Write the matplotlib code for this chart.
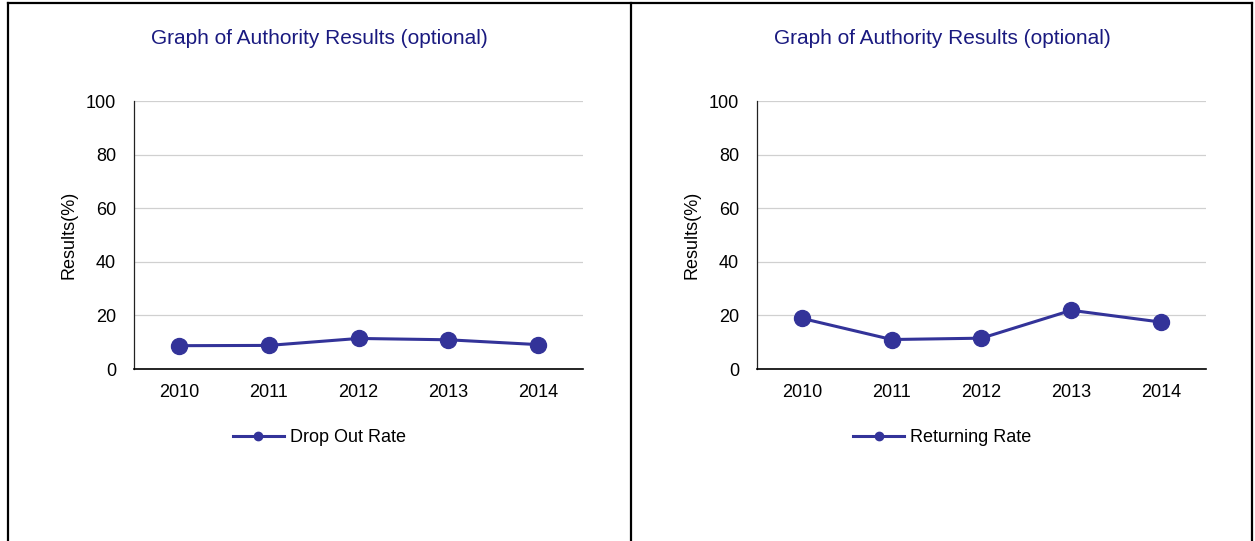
import matplotlib
matplotlib.use("Agg")
import matplotlib.pyplot as plt
from matplotlib.lines import Line2D

plt.rcParams['font.family'] = ['Liberation Sans', 'DejaVu Sans']

years = ["2010", "2011", "2012", "2013", "2014"]
drop_out_rate = [8.7, 8.8, 11.4, 10.9, 9.1]
returning_rate = [18.9, 11.0, 11.5, 21.9, 17.5]
y_ticks = [0, 20, 40, 60, 80, 100]
title_text = "Graph of Authority Results (optional)"
ylabel_text = "Results(%)"

W, H = 1255, 541
fig = plt.figure(figsize=(W / 100, H / 100), dpi=100)

line_color = "#333399"
title_color = "#1a1a80"
fs = 13

panels = [
    (0.0, drop_out_rate, "Drop Out Rate"),
    (623.0, returning_rate, "Returning Rate"),
]

for offset, values, label in panels:
    left_px = 134 + offset
    ax = fig.add_axes([left_px / W, (H - 369) / H, (583 - 134) / W, (369 - 101) / H])
    x = list(range(len(years)))
    ax.plot(x, values, color=line_color, lw=2.2, marker="o", ms=11.5,
            markerfacecolor=line_color, markeredgecolor=line_color, label=label)
    ax.set_xlim(-0.5, len(years) - 0.5)
    ax.set_ylim(0, 100)
    ax.set_yticks(y_ticks)
    ax.set_xticks(x)
    ax.set_xticklabels(years)
    ax.tick_params(axis="both", length=0, labelsize=fs, colors="black")
    ax.tick_params(axis="y", pad=13)
    ax.tick_params(axis="x", pad=11)
    ax.yaxis.grid(True, color="#d0d0d0", lw=0.9)
    ax.set_axisbelow(True)
    for s in ["top", "right"]:
        ax.spines[s].set_visible(False)
    ax.spines["left"].set_color("#222222")
    ax.spines["left"].set_linewidth(0.9)
    ax.spines["bottom"].set_color("black")
    ax.spines["bottom"].set_linewidth(1.2)
    ax.set_ylabel(ylabel_text, fontsize=fs, labelpad=6)

    panel_center = (8 + offset + 631 + offset) / 2.0
    fig.text(panel_center / W, (H - 39) / H, title_text, ha="center", va="center",
             fontsize=15, color=title_color)

    handle = Line2D([], [], color=line_color, lw=2.2, marker="o", ms=6,
                    markerfacecolor=line_color, markeredgecolor=line_color)
    fig.legend([handle], [label], loc="center", bbox_to_anchor=(panel_center / W, (H - 438) / H),
               frameon=False, fontsize=fs, handlelength=2.8, handletextpad=0.35)

# panel borders
border_kw = dict(color="black", lw=1.6, transform=fig.transFigure)
fig.add_artist(Line2D([8 / W, 8 / W], [0, (H - 3) / H], **border_kw))
fig.add_artist(Line2D([631 / W, 631 / W], [0, (H - 3) / H], **border_kw))
fig.add_artist(Line2D([1252 / W, 1252 / W], [0, (H - 3) / H], **border_kw))
fig.add_artist(Line2D([8 / W, 1252 / W], [(H - 3) / H, (H - 3) / H], **border_kw))

fig.savefig("out.png", dpi=100, facecolor="white")
